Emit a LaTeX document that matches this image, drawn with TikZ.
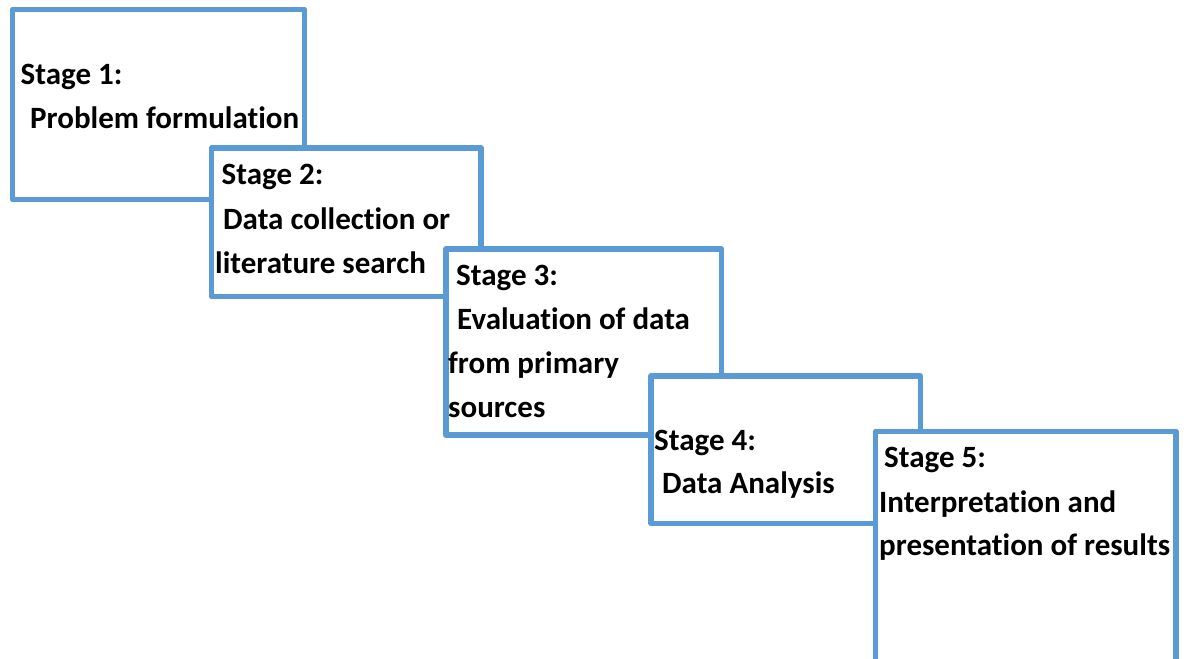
\documentclass[tikz,border=0pt]{standalone}
\usepackage{fontspec}
\setmainfont[Ligatures=NoCommon]{Carlito}
\definecolor{stageblue}{HTML}{5B9BD5}
\begin{document}
\begin{tikzpicture}[x=1pt,y=-1pt,
  stagebox/.style={draw=stageblue,fill=white,line width=5.5pt,line join=round},
  stagetext/.style={anchor=base west,inner sep=0pt,font=\bfseries\fontsize{31}{37}\selectfont}]
\useasboundingbox (0,0) rectangle (1187,659);
\clip (0,0) rectangle (1187,659);
% stage 1
\draw[stagebox] (12.5,9.5) rectangle (304.5,199.5);
\node[stagetext] (s1a) at (20.5,84) {Stage 1:};
\node[stagetext] (s1b) at (30,128) {Problem formulation};
% stage 2
\draw[stagebox] (211.5,148) rectangle (481,296.5);
\node[stagetext] (s2a) at (221.5,184) {Stage 2:};
\node[stagetext] (s2b) at (223,229) {Data collection or};
\node[stagetext] (s2c) at (215,273) {literature search};
% stage 3
\draw[stagebox] (446,249) rectangle (721.5,435);
\node[stagetext] (s3a) at (456,285) {Stage 3:};
\node[stagetext] (s3b) at (457,329) {Evaluation of data};
\node[stagetext] (s3c) at (448,373) {from primary};
\node[stagetext] (s3d) at (448,417) {sources};
% stage 4
\draw[stagebox] (651,376) rectangle (920.5,523.5);
\node[stagetext] (s4a) at (654,450) {Stage 4:};
\node[stagetext] (s4b) at (662,493) {Data Analysis};
% stage 5
\draw[stagebox] (875.5,431.5) rectangle (1176,700);
\node[stagetext] (s5a) at (884,467) {Stage 5:};
\node[stagetext] (s5b) at (879,512) {Interpretation and};
\node[stagetext] (s5c) at (879,555) {presentation of results};
\end{tikzpicture}
\end{document}
